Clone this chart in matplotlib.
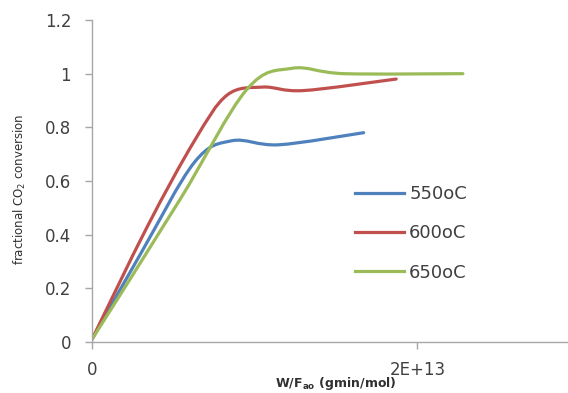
import matplotlib.pyplot as plt
import numpy as np
from matplotlib.path import Path
from matplotlib.patches import PathPatch
from matplotlib.lines import Line2D

# W/F (gmin/mol) and fractional CO2 conversion at each temperature
wf_550 = [0, 3.0e12, 6.3e12, 8.6e12, 11.5e12, 16.7e12]
conv_550 = [0.01, 0.33, 0.67, 0.75, 0.735, 0.78]

wf_600 = [0, 3.4e12, 6.3e12, 8.3e12, 10.5e12, 13.0e12, 18.7e12]
conv_600 = [0.01, 0.43, 0.75, 0.92, 0.95, 0.937, 0.98]

wf_650 = [0, 5.4e12, 9.5e12, 12.3e12, 15.5e12, 22.8e12]
conv_650 = [0.01, 0.53, 0.94, 1.02, 1.0, 1.0]

labels = ['550oC', '600oC', '650oC']
colors = ['#4F81BD', '#C0504D', '#9BBB59']

yticks = [0, 0.2, 0.4, 0.6, 0.8, 1, 1.2]
ytick_labels = ['0', '0.2', '0.4', '0.6', '0.8', '1', '1.2']
xticks = [0, 2e13]
xtick_labels = ['0', '2E+13']


def smooth_path(x, y):
    # spreadsheet-style smoothed line: cubic bezier through every point
    p = np.column_stack([x, y]).astype(float)
    n = len(p)
    verts = [p[0]]
    codes = [Path.MOVETO]
    for i in range(n - 1):
        p0 = p[i - 1] if i > 0 else p[i]
        p3 = p[i + 2] if i + 2 < n else p[i + 1]
        c1 = p[i] + (p[i + 1] - p0) / 6.0
        c2 = p[i + 1] - (p3 - p[i]) / 6.0
        verts += [c1, c2, p[i + 1]]
        codes += [Path.CURVE4] * 3
    return Path(verts, codes)


fig = plt.figure(figsize=(5.68, 3.93), dpi=100)
ax = fig.add_axes([92 / 568, 1 - 342 / 393, 488 / 568, 322 / 393])

series = [(wf_550, conv_550), (wf_600, conv_600), (wf_650, conv_650)]
handles = []
for (x, y), c, lab in zip(series, colors, labels):
    ax.add_patch(PathPatch(smooth_path(x, y), fill=False, ec=c, lw=2.3,
                           capstyle='round', joinstyle='round'))
    handles.append(Line2D([], [], color=c, lw=2.3, label=lab))

ax.set_xlim(0, 3e13)
ax.set_ylim(0, 1.2)
ax.set_yticks(yticks)
ax.set_yticklabels(ytick_labels)
ax.set_xticks(xticks)
ax.set_xticklabels(xtick_labels)

for s in ['top', 'right']:
    ax.spines[s].set_visible(False)
for s in ['left', 'bottom']:
    ax.spines[s].set_color('#a6a6a6')
    ax.spines[s].set_linewidth(1.0)

ax.tick_params(axis='both', colors='#a6a6a6', labelcolor='#404040',
               labelsize=12, length=5, width=1.0)
ax.tick_params(axis='y', pad=10)
ax.tick_params(axis='x', pad=9)

fig.text(20 / 568, 1 - 189 / 393, 'fractional CO$_2$ conversion',
         rotation=90, ha='center', va='center', fontsize=8.5, color='#303030')
fig.text(336 / 568, 1 - 383 / 393, 'W/F$_{\\mathbf{ao}}$ (gmin/mol)',
         ha='center', va='center', fontsize=9, fontweight='bold', color='#303030')

ax.legend(handles=handles, loc='upper left', bbox_to_anchor=(355 / 568, 1 - 185 / 393),
          bbox_transform=fig.transFigure, frameon=False, fontsize=13,
          handlelength=2.7, handletextpad=0.3, labelspacing=1.18,
          borderpad=0, borderaxespad=0, labelcolor='#404040')

fig.savefig('out.png', dpi=100)
